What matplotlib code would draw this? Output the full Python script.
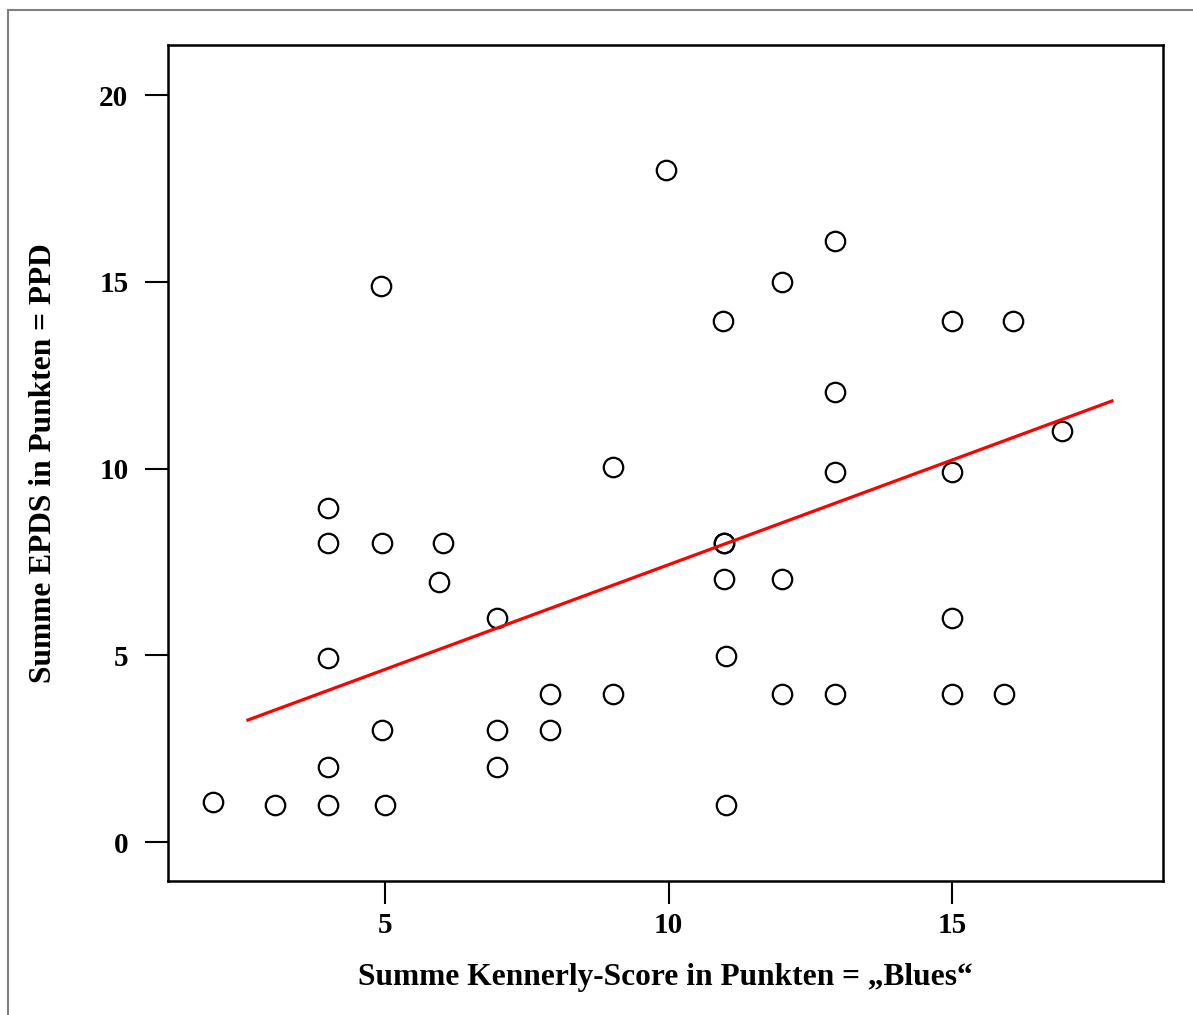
import numpy as np
import matplotlib.pyplot as plt
from matplotlib.lines import Line2D

# Kennerly-Score ("Blues") vs EPDS (PPD) (slight jitter kept)
kennerly = [1.96, 3.06, 3.99, 4.99, 11.02,
            3.99, 6.97,
            4.94, 6.97, 7.91,
            7.91, 9.02, 12.0, 12.94, 15.0, 15.92,
            3.99, 11.02,
            6.97, 15.0,
            5.95, 10.98, 12.0,
            3.99, 4.94, 6.02, 10.98, 10.98,
            3.99,
            9.02, 12.94, 15.0,
            16.94,
            12.94,
            10.96, 15.0, 16.08,
            12.0, 4.93,
            12.94,
            9.96]
epds = [1.08, 0.99, 0.99, 0.99, 0.99,
        2.02, 2.02,
        3.0, 3.0, 3.0,
        3.96, 3.96, 3.96, 3.96, 3.96, 3.96,
        4.93, 4.98,
        6.0, 6.0,
        6.96, 7.04, 7.04,
        8.0, 8.0, 8.0, 8.0, 8.0,
        8.94,
        10.04, 9.9, 9.9,
        11.0,
        12.05,
        13.95, 13.95, 13.95,
        14.99, 14.9,
        16.09,
        17.99]

# regression line (endpoints as drawn)
fit_x = [2.58, 17.82]
fit_y = [3.27, 11.81]

plt.rcParams['font.family'] = ['Liberation Serif', 'DejaVu Serif']
plt.rcParams['font.weight'] = 'bold'

fig = plt.figure(figsize=(11.93, 10.15), dpi=100)
ax = fig.add_axes([168 / 1193, 1 - 881 / 1015, (1163 - 168) / 1193, (881 - 45) / 1015])

ax.plot(kennerly, epds, 'o', mfc='none', mec='black', ms=14, mew=1.6, clip_on=False)
ax.plot(fit_x, fit_y, color='#ff0000', lw=2.3)

ax.set_xlim(1.17, 18.72)
ax.set_ylim(-1.04, 21.34)
ax.set_xticks([5, 10, 15])
ax.set_yticks([0, 5, 10, 15, 20])
ax.tick_params(direction='out', length=16.5, width=1.5, labelsize=21)
ax.tick_params(axis='x', pad=6)
ax.tick_params(axis='y', pad=12)
for s in ax.spines.values():
    s.set_linewidth(1.8)

ax.set_xlabel('Summe Kennerly-Score in Punkten = \u201eBlues\u201c',
              fontsize=22.6, fontweight='bold', labelpad=17)
ax.set_ylabel('Summe EPDS in Punkten = PPD', fontsize=22.6, fontweight='bold', labelpad=30)

# outer gray frame (left and top edges)
fig.add_artist(Line2D([8 / 1193, 8 / 1193], [0, 1 - 10 / 1015], color='#808080', lw=1.5))
fig.add_artist(Line2D([8 / 1193, 1], [1 - 10 / 1015, 1 - 10 / 1015], color='#808080', lw=1.5))

fig.savefig('out.png', dpi=100)
